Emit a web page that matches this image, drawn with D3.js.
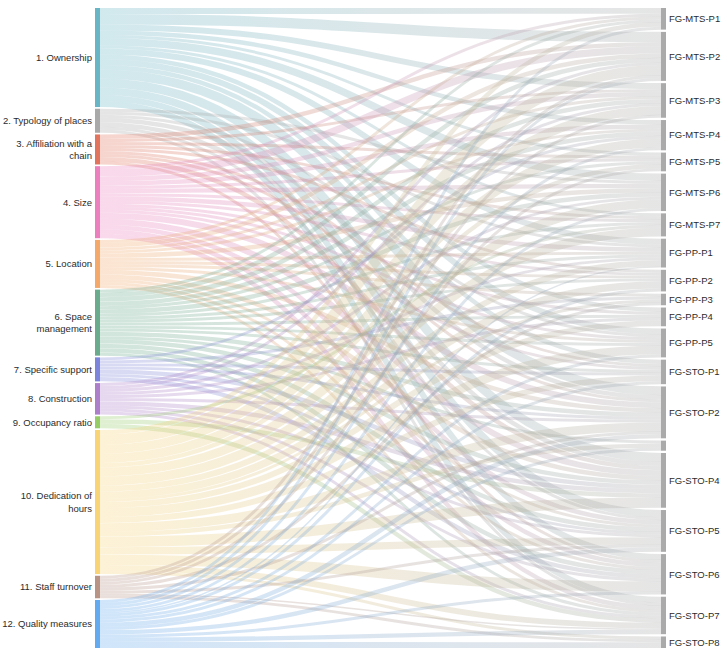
<!DOCTYPE html>
<html>
<head>
<meta charset="utf-8">
<script src="https://cdn.jsdelivr.net/npm/d3@7"></script>
<style>
  body { margin: 0; background: #fff; }
  text { font-family: "Liberation Sans", Arial, Helvetica, sans-serif; font-size: 9.5px; fill: #2b2b2b; }
</style>
</head>
<body>
<svg id="chart" width="724" height="654"></svg>
<script>
// ---------- DATA ----------
const factors = [
  "1. Ownership",
  "2. Typology of places",
  "3. Affiliation with a\nchain",
  "4. Size",
  "5. Location",
  "6. Space\nmanagement",
  "7. Specific support",
  "8. Construction",
  "9. Occupancy ratio",
  "10. Dedication of\nhours",
  "11. Staff turnover",
  "12. Quality measures"
];
const factorColors = [
  "#68b5c5", "#a9a9a9", "#e2735c", "#ec80be", "#f4a96a", "#69ab8c",
  "#7d84db", "#ad7fcb", "#95cc66", "#f8d477", "#b89487", "#64aaf0"
];
const participants = [
  "FG-MTS-P1", "FG-MTS-P2", "FG-MTS-P3", "FG-MTS-P4", "FG-MTS-P5", "FG-MTS-P6", "FG-MTS-P7",
  "FG-PP-P1", "FG-PP-P2", "FG-PP-P3", "FG-PP-P4", "FG-PP-P5",
  "FG-STO-P1", "FG-STO-P2", "FG-STO-P3", "FG-STO-P4", "FG-STO-P5", "FG-STO-P6", "FG-STO-P7", "FG-STO-P8"
];
// flows[factor][participant]
const flows = [
  [4,7,4,3,2,5,2,4,0,0,3,4,3,6,0,6,5,4,4,0],   // 1. Ownership
  [0,0,0,0,0,2,0,2,0,0,0,2,0,3,0,3,2,0,2,0],   // 2. Typology of places
  [0,3,2,0,2,0,2,0,2,0,0,0,2,2,0,3,0,2,0,0],   // 3. Affiliation with a chain
  [2,5,3,3,2,3,2,3,2,0,2,2,2,4,0,4,3,3,3,0],   // 4. Size
  [2,3,2,2,0,3,0,2,2,2,0,2,0,3,0,3,2,2,2,0],   // 5. Location
  [2,3,3,3,2,3,2,2,2,0,2,2,2,3,2,3,3,3,2,0],   // 6. Space management
  [0,0,0,2,0,0,0,0,0,2,0,0,2,2,0,3,2,3,0,0],   // 7. Specific support
  [0,2,2,0,0,2,0,2,0,0,2,0,0,2,0,3,2,2,2,0],   // 8. Construction
  [0,0,0,0,0,0,2,0,0,0,0,0,0,0,0,3,0,0,3,0],   // 9. Occupancy ratio
  [3,7,6,6,3,6,6,4,5,2,4,6,4,6,3,7,5,7,4,2],   // 10. Dedication of hours
  [0,2,2,0,2,0,0,0,0,2,0,0,0,2,0,0,2,0,1,2],   // 11. Staff turnover
  [2,2,0,2,0,2,0,1,2,0,0,2,2,3,2,0,3,2,3,4]    // 12. Quality measures
];
const participantColor = "#aaaaaa";

// ---------- LAYOUT ----------
const svg = d3.select("#chart");
const yTop = 8, yBottom = 648;
const leftX0 = 95, leftX1 = 100, rightX0 = 661, rightX1 = 666;
const gapL = 1.7, gapR = 2.3;

const leftTotals = flows.map(r => d3.sum(r));
const rightTotals = participants.map((_, j) => d3.sum(flows, r => r[j]));
const total = d3.sum(leftTotals);

const kL = d3.scaleLinear().domain([0, total]).range([0, (yBottom - yTop) - gapL * (factors.length - 1)]);
const kR = d3.scaleLinear().domain([0, total]).range([0, (yBottom - yTop) - gapR * (participants.length - 1)]);

function stack(values, k, gap) {
  let y = yTop;
  return values.map(v => {
    const n = { y0: y, y1: y + k(v) };
    y = n.y1 + gap;
    return n;
  });
}
const leftNodes = stack(leftTotals, kL, gapL);
const rightNodes = stack(rightTotals, kR, gapR);

const links = [];
flows.forEach((row, i) => row.forEach((v, j) => { if (v > 0) links.push({ s: i, t: j, v }); }));

// source offsets (sorted by target order)
leftNodes.forEach((n, i) => {
  let acc = n.y0;
  links.filter(l => l.s === i).sort((a, b) => a.t - b.t).forEach(l => {
    l.sy = acc + kL(l.v) / 2; acc += kL(l.v);
  });
});
// target offsets (sorted by source order)
rightNodes.forEach((n, j) => {
  let acc = n.y0;
  links.filter(l => l.t === j).sort((a, b) => a.s - b.s).forEach(l => {
    l.ty = acc + kR(l.v) / 2; acc += kR(l.v);
  });
});

// ---------- DRAW ----------
const defs = svg.append("defs");
factorColors.forEach((c, i) => {
  const g = defs.append("linearGradient")
    .attr("id", "grad" + i)
    .attr("gradientUnits", "userSpaceOnUse")
    .attr("x1", leftX1).attr("x2", rightX0).attr("y1", 0).attr("y2", 0);
  g.append("stop").attr("offset", "0%").attr("stop-color", c);
  g.append("stop").attr("offset", "100%").attr("stop-color", participantColor);
});

const linkGen = d3.linkHorizontal();
svg.append("g").attr("fill", "none").attr("stroke-opacity", 0.3)
  .selectAll("path").data(links).join("path")
  .attr("d", l => linkGen({ source: [leftX1, l.sy], target: [rightX0, l.ty] }))
  .attr("stroke", l => `url(#grad${l.s})`)
  .attr("stroke-width", l => Math.max(1, (kL(l.v) + kR(l.v)) / 2));

// left nodes
svg.append("g").selectAll("rect").data(leftNodes).join("rect")
  .attr("x", leftX0).attr("width", leftX1 - leftX0)
  .attr("y", d => d.y0).attr("height", d => d.y1 - d.y0)
  .attr("fill", (d, i) => factorColors[i]);

// right nodes
svg.append("g").selectAll("rect").data(rightNodes).join("rect")
  .attr("x", rightX0).attr("width", rightX1 - rightX0)
  .attr("y", d => d.y0).attr("height", d => d.y1 - d.y0)
  .attr("fill", participantColor);

// left labels
const lineH = 12.5;
svg.append("g").selectAll("text").data(leftNodes).join("text")
  .attr("text-anchor", "end")
  .each(function (d, i) {
    const lines = factors[i].split("\n");
    const cy = (d.y0 + d.y1) / 2;
    const t = d3.select(this);
    lines.forEach((ln, k) => {
      t.append("tspan")
        .attr("x", leftX0 - 3)
        .attr("y", cy + (k - (lines.length - 1) / 2) * lineH)
        .attr("dy", "0.35em")
        .text(ln);
    });
  });

// right labels (hidden for very small nodes)
svg.append("g").selectAll("text").data(rightNodes.map((d, j) => ({ ...d, name: participants[j] })).filter(d => d.y1 - d.y0 >= 10.5))
  .join("text")
  .attr("x", rightX1 + 3)
  .attr("y", d => (d.y0 + d.y1) / 2)
  .attr("dy", "0.35em")
  .text(d => d.name);
</script>
</body>
</html>
